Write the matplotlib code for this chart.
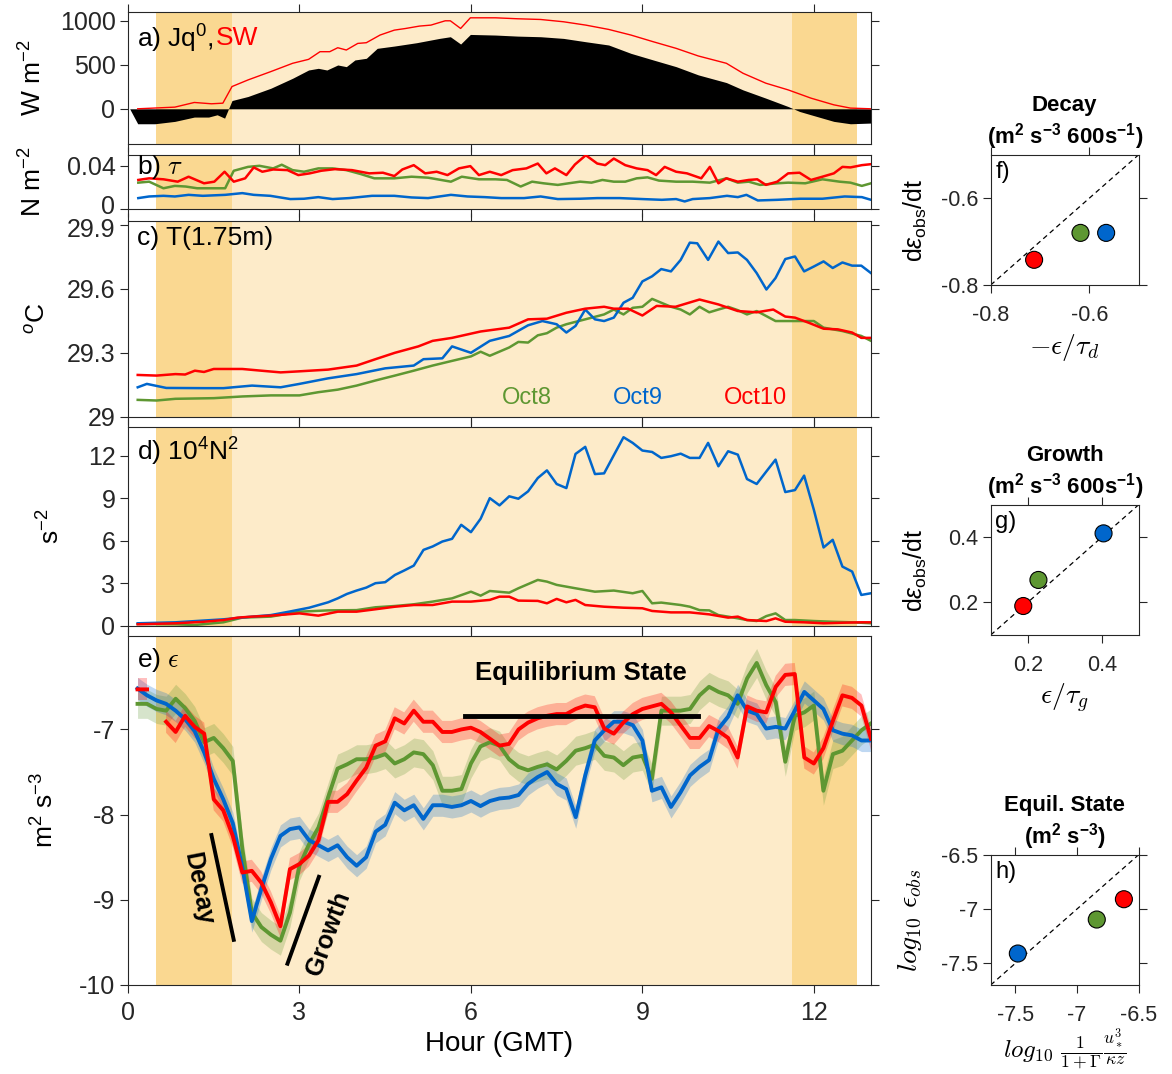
import numpy as np
import matplotlib
matplotlib.use('Agg')
import matplotlib.pyplot as plt
import matplotlib.transforms as mtransforms

plt.rcParams['font.family'] = ['Liberation Sans', 'DejaVu Sans']
plt.rcParams['mathtext.fontset'] = 'custom'
plt.rcParams['mathtext.rm'] = 'Liberation Sans'
plt.rcParams['mathtext.it'] = 'Liberation Sans:italic'
plt.rcParams['mathtext.bf'] = 'Liberation Sans:bold'
plt.rcParams['mathtext.sf'] = 'Liberation Sans'
plt.rcParams['axes.unicode_minus'] = False

# ---------------- data ----------------
# a) surface heat flux Jq0 and shortwave SW (W m-2)
t_sw = [0.17, 0.82, 1.16, 1.46, 1.66, 1.82, 2.1, 2.5, 2.88, 3.16, 3.36, 3.53, 3.67, 3.82, 4.02, 4.17, 4.41,
        4.66, 4.86, 5.1, 5.3, 5.55, 5.64, 5.82, 5.99, 6.43, 6.82, 7.22, 7.62, 8.01, 8.41, 8.8, 9.19, 9.59,
        9.98, 10.47, 10.76, 11.16, 11.55, 11.95, 12.35, 12.64, 13.0]
sw = [0, 19, 72, 57, 64, 253, 328, 423, 517, 562, 649, 649, 694, 668, 743, 751, 838, 894, 913, 940, 951,
      1000, 1000, 913, 1034, 1034, 1023, 1015, 989, 951, 902, 838, 762, 687, 600, 517, 404, 291, 215, 121,
      45, 8, 0]
t_jq = [0.03, 0.17, 0.47, 0.82, 1.16, 1.41, 1.56, 1.69, 1.82, 2.1, 2.5, 2.88, 3.16, 3.33, 3.48, 3.67, 3.82,
        3.97, 4.17, 4.36, 4.66, 5.05, 5.45, 5.64, 5.82, 5.99, 6.43, 6.82, 7.22, 7.62, 8.01, 8.41, 8.8, 9.19,
        9.59, 9.98, 10.47, 10.76, 11.16, 11.55, 11.75, 11.95, 12.35, 12.64, 13.0]
jq = [0, -170, -170, -143, -94, -94, -68, -106, 94, 140, 234, 347, 441, 460, 441, 498, 479, 555, 574, 687,
      713, 751, 800, 819, 736, 845, 838, 826, 819, 800, 762, 725, 630, 555, 479, 385, 298, 215, 121, 26,
      -30, -68, -143, -170, -162]

# b) wind stress tau (N m-2)
t_tau_g = [0.18, 0.37, 0.62, 0.82, 1.01, 1.21, 1.46, 1.70, 1.85, 2.1, 2.3, 2.54, 2.69, 2.88, 3.08, 3.33, 3.58,
           3.82, 4.07, 4.31, 4.66, 4.96, 5.25, 5.65, 5.84, 6.14, 6.43, 6.63, 6.87, 7.07, 7.27, 7.52, 7.71,
           7.91, 8.11, 8.3, 8.5, 8.7, 8.9, 9.09, 9.29, 9.59, 9.88, 10.18, 10.47, 10.67, 10.86, 11.06, 11.36,
           11.55, 11.85, 12.15, 12.45, 12.64, 12.84, 13.0]
tau_g = [0.0244, 0.0253, 0.0192, 0.0214, 0.0208, 0.0192, 0.0192, 0.0192, 0.0354, 0.039, 0.040, 0.0376,
         0.041, 0.036, 0.0345, 0.0376, 0.0376, 0.036, 0.0324, 0.0284, 0.0284, 0.0299, 0.029, 0.0253, 0.0299,
         0.0275, 0.0275, 0.0269, 0.0208, 0.0253, 0.0238, 0.0223, 0.0238, 0.0253, 0.0244, 0.0269, 0.0253,
         0.0253, 0.0284, 0.0293, 0.0263, 0.0253, 0.0253, 0.0244, 0.0284, 0.0244, 0.0253, 0.0223, 0.0238,
         0.0244, 0.0238, 0.0275, 0.0253, 0.0244, 0.0214, 0.0238]
t_tau_b = [0.18, 0.37, 0.62, 0.82, 1.06, 1.31, 1.70, 2.0, 2.2, 2.49, 2.84, 3.08, 3.33, 3.58, 3.87, 4.27, 4.66,
           4.96, 5.25, 5.65, 5.94, 6.24, 6.53, 6.93, 7.22, 7.52, 7.91, 8.21, 8.6, 9.0, 9.34, 9.59, 9.74, 9.88,
           10.18, 10.48, 10.67, 10.82, 11.02, 11.36, 11.76, 12.15, 12.54, 12.84, 13.0]
tau_b = [0.0101, 0.0116, 0.0122, 0.0116, 0.0131, 0.0122, 0.0131, 0.0147, 0.0131, 0.0122, 0.0092, 0.0095,
         0.011, 0.0092, 0.0101, 0.0122, 0.0122, 0.0107, 0.0101, 0.0131, 0.0116, 0.011, 0.0101, 0.0101,
         0.0116, 0.0092, 0.0095, 0.0101, 0.0101, 0.0092, 0.0085, 0.0092, 0.007, 0.0092, 0.0101, 0.0122,
         0.011, 0.0131, 0.0079, 0.0085, 0.0095, 0.0095, 0.0116, 0.011, 0.0085]
t_tau_r = [0.18, 0.37, 0.62, 0.87, 1.06, 1.33, 1.51, 1.69, 1.85, 2.05, 2.2, 2.35, 2.54, 2.79, 2.98, 3.18, 3.38,
           3.62, 3.92, 4.22, 4.46, 4.66, 4.8, 5.0, 5.2, 5.4, 5.59, 5.79, 5.99, 6.14, 6.33, 6.53, 6.73, 6.97,
           7.17, 7.32, 7.47, 7.67, 7.82, 8.01, 8.21, 8.35, 8.5, 8.7, 8.9, 9.09, 9.24, 9.39, 9.59, 9.78, 10.03,
           10.18, 10.33, 10.47, 10.67, 10.86, 11.01, 11.16, 11.36, 11.55, 11.75, 11.95, 12.15, 12.35, 12.5,
           12.64, 12.84, 13.0]
tau_r = [0.0269, 0.0284, 0.0275, 0.0253, 0.0299, 0.0238, 0.0253, 0.0345, 0.0253, 0.0284, 0.0385, 0.0345,
         0.0366, 0.036, 0.0314, 0.033, 0.0354, 0.0369, 0.036, 0.033, 0.0336, 0.0305, 0.0366, 0.0406, 0.033,
         0.0345, 0.0314, 0.0376, 0.0397, 0.0314, 0.0345, 0.0314, 0.036, 0.0376, 0.0421, 0.033, 0.0376,
         0.0314, 0.0412, 0.0498, 0.0421, 0.0406, 0.0467, 0.0406, 0.0376, 0.036, 0.0314, 0.039, 0.0345,
         0.033, 0.0284, 0.039, 0.0238, 0.0284, 0.0253, 0.0269, 0.0275, 0.0223, 0.0253, 0.033, 0.0336,
         0.0269, 0.0299, 0.033, 0.039, 0.0385, 0.0406, 0.0415]

# c) temperature at 1.75 m (deg C)
t_T_g = [0.17, 0.5, 0.83, 1.5, 2.0, 2.5, 3.0, 3.33, 3.67, 4.0, 4.33, 4.67, 5.0, 5.33, 5.67, 6.0, 6.17, 6.33,
         6.67, 6.83, 7.0, 7.17, 7.33, 7.5, 7.67, 8.0, 8.33, 8.5, 8.67, 8.83, 9.0, 9.17, 9.33, 9.5, 9.67, 9.83,
         10.0, 10.17, 10.33, 10.5, 10.67, 10.83, 11.0, 11.17, 11.33, 11.67, 12.0, 12.17, 12.5, 12.83, 13.0]
T_g = [29.079, 29.076, 29.084, 29.087, 29.095, 29.1, 29.1, 29.115, 29.127, 29.146, 29.17, 29.193, 29.216,
       29.24, 29.262, 29.283, 29.305, 29.286, 29.325, 29.351, 29.348, 29.382, 29.392, 29.418, 29.434,
       29.457, 29.48, 29.503, 29.48, 29.511, 29.516, 29.553, 29.535, 29.516, 29.503, 29.48, 29.516, 29.49,
       29.503, 29.516, 29.5, 29.48, 29.496, 29.472, 29.449, 29.449, 29.449, 29.418, 29.402, 29.379, 29.356]
t_T_b = [0.17, 0.33, 0.67, 1.33, 1.67, 2.17, 2.67, 3.0, 3.5, 4.0, 4.5, 5.0, 5.17, 5.5, 5.67, 6.0, 6.33, 6.67,
         7.0, 7.25, 7.5, 7.67, 7.83, 8.0, 8.17, 8.33, 8.5, 8.67, 8.83, 9.0, 9.17, 9.33, 9.5, 9.67, 9.83, 9.96,
         10.15, 10.33, 10.5, 10.67, 10.83, 11.0, 11.17, 11.33, 11.5, 11.67, 11.83, 12.0, 12.17, 12.33, 12.5,
         12.67, 12.83, 13.0]
T_b = [29.138, 29.154, 29.135, 29.134, 29.134, 29.146, 29.138, 29.154, 29.18, 29.2, 29.227, 29.24, 29.27,
       29.274, 29.33, 29.30, 29.356, 29.379, 29.429, 29.449, 29.434, 29.395, 29.426, 29.503, 29.457, 29.449,
       29.465, 29.535, 29.558, 29.635, 29.659, 29.693, 29.682, 29.736, 29.817, 29.814, 29.736, 29.822,
       29.768, 29.771, 29.736, 29.674, 29.597, 29.651, 29.74, 29.752, 29.682, 29.705, 29.729, 29.698,
       29.724, 29.709, 29.709, 29.674]
t_T_r = [0.17, 0.5, 0.83, 1.0, 1.17, 1.33, 1.5, 2.0, 2.33, 2.67, 3.0, 3.5, 4.0, 4.33, 4.67, 5.08, 5.33, 5.67,
         6.17, 6.67, 7.0, 7.33, 7.67, 8.0, 8.33, 8.5, 8.75, 9.0, 9.25, 9.58, 10.0, 10.33, 10.67, 11.0, 11.29,
         11.5, 11.67, 11.92, 12.17, 12.42, 12.67, 12.83, 13.0]
T_r = [29.196, 29.193, 29.20, 29.198, 29.216, 29.21, 29.224, 29.224, 29.216, 29.208, 29.213, 29.221, 29.24,
       29.27, 29.30, 29.33, 29.356, 29.37, 29.40, 29.418, 29.457, 29.46, 29.488, 29.507, 29.516, 29.507,
       29.507, 29.475, 29.52, 29.516, 29.55, 29.527, 29.496, 29.49, 29.503, 29.47, 29.465, 29.44, 29.413,
       29.41, 29.395, 29.37, 29.37]

# d) 10^4 N^2 (s-2)
t_N_g = [0.17, 0.83, 1.17, 1.67, 2.0, 2.5, 3.0, 3.5, 4.0, 4.33, 4.67, 5.0, 5.33, 5.67, 6.0, 6.17, 6.33, 6.67,
         6.83, 7.17, 7.33, 7.5, 7.83, 8.17, 8.5, 8.83, 9.0, 9.17, 9.33, 9.67, 9.83, 10.0, 10.17, 10.33, 10.5,
         10.67, 10.83, 11.0, 11.17, 11.33, 11.5, 11.67, 12.0, 12.33, 12.67, 13.0]
N_g = [0.12, 0.10, 0.05, 0.24, 0.57, 0.64, 0.99, 1.08, 1.10, 1.30, 1.39, 1.51, 1.70, 1.93, 2.40, 2.12, 2.45,
       2.33, 2.64, 3.23, 3.11, 2.88, 2.64, 2.40, 2.48, 2.29, 2.45, 1.58, 1.63, 1.46, 1.34, 1.10, 1.08, 0.75,
       0.64, 0.52, 0.40, 0.33, 0.68, 0.87, 0.40, 0.40, 0.33, 0.28, 0.24, 0.17]
t_N_b = [0.17, 0.83, 1.67, 2.17, 2.5, 2.83, 3.17, 3.5, 3.67, 3.83, 4.0, 4.17, 4.33, 4.5, 4.67, 4.83, 5.0, 5.17,
         5.33, 5.5, 5.67, 5.83, 6.0, 6.17, 6.33, 6.5, 6.67, 6.83, 7.0, 7.17, 7.33, 7.5, 7.67, 7.83, 8.0, 8.17,
         8.33, 8.5, 8.67, 8.83, 9.0, 9.17, 9.33, 9.5, 9.67, 9.83, 10.0, 10.15, 10.33, 10.5, 10.67, 10.83,
         11.0, 11.17, 11.33, 11.5, 11.67, 11.83, 12.0, 12.17, 12.33, 12.5, 12.67, 12.83, 13.0]
N_b = [0.17, 0.24, 0.45, 0.64, 0.75, 1.0, 1.27, 1.65, 1.93, 2.24, 2.48, 2.69, 3.0, 3.07, 3.58, 3.89, 4.24,
       5.35, 5.59, 5.94, 6.13, 7.12, 6.6, 7.55, 9.0, 8.49, 9.13, 8.96, 9.48, 10.42, 10.96, 10.0, 9.71, 12.12,
       12.62, 10.7, 10.75, 12.03, 13.3, 12.9, 12.36, 12.26, 11.84, 11.96, 12.14, 11.84, 11.84, 12.9, 11.25,
       12.31, 12.07, 10.35, 10.0, 10.89, 11.72, 9.43, 9.57, 10.59, 8.18, 5.52, 6.06, 4.17, 3.82, 2.17, 2.29]
t_N_r = [0.17, 0.83, 1.33, 1.67, 1.92, 2.17, 2.5, 3.0, 3.33, 3.67, 4.0, 4.33, 4.67, 5.0, 5.33, 5.67, 6.0, 6.33,
         6.5, 6.67, 6.83, 7.17, 7.33, 7.5, 7.67, 7.83, 8.0, 8.33, 8.67, 9.0, 9.17, 9.5, 9.83, 10.17, 10.5,
         10.67, 10.83, 11.17, 11.33, 11.5, 11.83, 12.17, 12.5, 12.83, 13.0]
N_r = [0.10, 0.17, 0.28, 0.40, 0.57, 0.64, 0.71, 0.87, 0.71, 0.99, 0.99, 1.16, 1.34, 1.46, 1.46, 1.70, 1.70,
       1.82, 2.05, 2.05, 1.77, 1.75, 1.58, 1.89, 1.65, 1.82, 1.46, 1.34, 1.27, 1.23, 1.04, 0.94, 0.94, 0.80,
       0.57, 0.64, 0.40, 0.33, 0.52, 0.28, 0.24, 0.17, 0.21, 0.24, 0.24]

# e) log10 epsilon (m2 s-3), 10-minute samples
t_eps = np.arange(1, 79) / 6.0
eps_g = [-6.70, -6.70, -6.76, -6.78, -6.64, -6.75,
         -6.90, -7.15, -7.10, -7.22, -7.37, -8.40,
         -9.15, -9.32, -9.41, -9.48, -9.15, -8.60,
         -8.35, -8.15, -7.80, -7.46, -7.41, -7.35,
         -7.35, -7.33, -7.29, -7.40, -7.35, -7.27,
         -7.29, -7.42, -7.72, -7.72, -7.70, -7.40,
         -7.20, -7.15, -7.19, -7.35, -7.44, -7.48,
         -7.44, -7.41, -7.47, -7.37, -7.25, -7.22,
         -7.18, -7.31, -7.33, -7.42, -7.33, -7.31,
         -7.58, -6.78, -6.78, -6.78, -6.76, -6.60,
         -6.50, -6.56, -6.60, -6.70, -6.40, -6.22,
         -6.48, -6.68, -7.38, -6.84, -6.80, -6.72,
         -7.72, -7.29, -7.25, -7.13, -7.01, -6.93]
eps_b = [-6.52, -6.60, -6.66, -6.70, -6.78, -6.88,
         -7.02, -7.27, -7.58, -7.82, -8.10, -8.62,
         -9.25, -8.87, -8.52, -8.25, -8.17, -8.15,
         -8.30, -8.36, -8.42, -8.36, -8.50, -8.60,
         -8.50, -8.20, -8.12, -7.86, -7.95, -7.89,
         -8.05, -7.89, -7.89, -7.91, -7.89, -7.84,
         -7.90, -7.84, -7.81, -7.80, -7.77, -7.64,
         -7.56, -7.50, -7.64, -7.70, -8.03, -7.54,
         -7.13, -7.01, -6.91, -6.91, -6.95, -7.13,
         -7.72, -7.68, -7.91, -7.74, -7.54, -7.44,
         -7.36, -6.99, -6.85, -6.60, -6.78, -6.82,
         -6.99, -6.97, -6.99, -6.78, -6.56, -6.66,
         -6.76, -7.01, -7.05, -7.07, -7.13, -7.13]
eps_r = [-6.53, -6.53, np.nan, -6.91, -7.03, -6.84,
         -6.97, -7.05, -7.82, -7.95, -8.25, -8.68,
         -8.66, -8.80, -9.03, -9.31, -8.64, -8.58,
         -8.48, -8.30, -7.85, -7.85, -7.76, -7.60,
         -7.45, -7.19, -7.14, -6.87, -6.93, -6.78,
         -6.91, -6.91, -7.03, -7.03, -7.00, -6.98,
         -7.03, -7.11, -7.19, -7.17, -7.00, -6.92,
         -6.87, -6.84, -6.82, -6.82, -6.76, -6.72,
         -6.74, -6.99, -7.05, -6.92, -6.82, -6.76,
         -6.73, -6.70, -6.80, -6.95, -7.10, -7.10,
         -6.96, -7.02, -7.10, -7.33, -6.73, -6.78,
         -6.80, -6.50, -6.36, -6.35, -7.33, -7.40,
         -7.22, -6.90, -6.60, -6.63, -6.72, -7.11]
eps_err = {'g': 0.17, 'b': 0.13, 'r': 0.13}

# annotations in e)
eq_span, eq_level = [5.9, 9.97], -6.84
decay_seg = ([1.46, 1.85], [-8.24, -9.47])
growth_seg = ([2.79, 3.34], [-9.75, -8.73])

# f-h) scatter points, order: Oct8, Oct9, Oct10
decay_model = [-0.618, -0.566, -0.712]
decay_obs = [-0.680, -0.680, -0.742]
growth_model = [0.229, 0.405, 0.188]
growth_obs = [0.269, 0.412, 0.189]
equil_model = [-6.84, -7.48, -6.62]
equil_obs = [-7.097, -7.41, -6.91]

# shading (hours)
light_band = (0.49, 12.76)
dark_bands = [(0.49, 1.82), (11.61, 12.76)]

GREEN = '#5E9732'
BLUE = '#0066CC'
RED = '#FF0000'
LIGHT = '#FDEBC9'
DARK = '#FAD891'
AX = '#262626'
colors3 = [GREEN, BLUE, RED]

# ---------------- figure ----------------
fig = plt.figure(figsize=(11.72, 10.74), dpi=100)
L, W = 128 / 1172, 743 / 1172
TS = 18


def pos(top, bot):
    return [L, 1 - bot / 1074, W, (bot - top) / 1074]


def style(ax, size=TS):
    for s in ax.spines.values():
        s.set_color(AX)
        s.set_linewidth(0.8)
    ax.tick_params(direction='out', top=True, right=True, length=5.5, width=0.8,
                   colors=AX, labelsize=size, labelcolor=AX)


def shade(ax):
    ax.axvspan(*light_band, color=LIGHT, lw=0, zorder=0)
    for a, b in dark_bands:
        ax.axvspan(a, b, color=DARK, lw=0, zorder=0.5)


axa = fig.add_axes(pos(12, 144))
axb = fig.add_axes(pos(155, 209))
axc = fig.add_axes(pos(220.7, 416.7))
axd = fig.add_axes(pos(427.3, 625.7))
axe = fig.add_axes(pos(635.7, 985))
main = [axa, axb, axc, axd, axe]
for ax in main:
    shade(ax)
    style(ax)
    ax.set_xlim(0, 13)
    ax.set_xticks([0, 3, 6, 9, 12])
    if ax is not axe:
        ax.set_xticklabels([])

# a
axa.fill_between(t_jq, 0, jq, color='black', lw=0, zorder=2)
axa.plot(t_sw, sw, color=RED, lw=1.0, zorder=3)
axa.set_ylim(-400, 1100)
axa.set_yticks([0, 500, 1000])
axa.text(0.012, 0.80, 'a) Jq$^0$,', transform=axa.transAxes, fontsize=19, va='center')
axa.text(0.118, 0.80, 'SW', transform=axa.transAxes, fontsize=19, va='center', color=RED)
axa.set_ylabel('W m$^{-2}$', fontsize=19)
axa.yaxis.set_label_coords(-0.110, 0.5)

# b
axb.plot(t_tau_g, tau_g, color=GREEN, lw=1.8, zorder=2)
axb.plot(t_tau_b, tau_b, color=BLUE, lw=1.8, zorder=2)
axb.plot(t_tau_r, tau_r, color=RED, lw=1.8, zorder=3)
axb.set_ylim(0, 0.05)
axb.set_yticks([0, 0.04])
axb.set_yticklabels(['0', '0.04'])
# nudge the lowest label up a little so it clears panel c's top label
lab0 = axb.get_yticklabels()[0]
lab0.set_transform(lab0.get_transform() + mtransforms.ScaledTranslation(0, 4 / 100, fig.dpi_scale_trans))
axb.text(0.012, 0.78, r'b) $\tau$', transform=axb.transAxes, fontsize=19, va='center',
         math_fontfamily='cm')
axb.set_ylabel('N m$^{-2}$', fontsize=19)
axb.yaxis.set_label_coords(-0.110, 0.5)

# c
axc.plot(t_T_g, T_g, color=GREEN, lw=1.8, zorder=2)
axc.plot(t_T_b, T_b, color=BLUE, lw=1.8, zorder=2)
axc.plot(t_T_r, T_r, color=RED, lw=1.8, zorder=3)
axc.set_ylim(29, 29.92)
axc.set_yticks([29, 29.3, 29.6, 29.9])
axc.set_yticklabels(['29', '29.3', '29.6', '29.9'])
labtop = axc.get_yticklabels()[-1]
labtop.set_transform(labtop.get_transform() + mtransforms.ScaledTranslation(0, -3 / 100, fig.dpi_scale_trans))
axc.text(0.012, 0.91, 'c) T(1.75m)', transform=axc.transAxes, fontsize=19, va='center')
for lab, xx, cc in [('Oct8', 6.98, GREEN), ('Oct9', 8.92, BLUE), ('Oct10', 10.98, RED)]:
    axc.text(xx, 29.088, lab, color=cc, fontsize=17, ha='center', va='center')
axc.set_ylabel('$^o$C', fontsize=19)
axc.yaxis.set_label_coords(-0.105, 0.5)

# d
axd.plot(t_N_g, N_g, color=GREEN, lw=1.8, zorder=2)
axd.plot(t_N_b, N_b, color=BLUE, lw=1.8, zorder=2)
axd.plot(t_N_r, N_r, color=RED, lw=1.8, zorder=3)
axd.set_ylim(0, 14)
axd.set_yticks([0, 3, 6, 9, 12])
axd.text(0.012, 0.875, 'd) 10$^4$N$^2$', transform=axd.transAxes, fontsize=19, va='center')
axd.set_ylabel('s$^{-2}$', fontsize=19)
axd.yaxis.set_label_coords(-0.086, 0.5)

# e
for key, ser, cc in [('g', eps_g, GREEN), ('b', eps_b, BLUE), ('r', eps_r, RED)]:
    s = np.array(ser, dtype=float)
    axe.fill_between(t_eps, s - eps_err[key], s + eps_err[key], color=cc, alpha=0.25, lw=0, zorder=2)
    axe.plot(t_eps, s, color=cc, lw=2.8, zorder=3)
axe.plot(eq_span, [eq_level, eq_level], color='black', lw=3.5, zorder=4)
axe.plot(*decay_seg, color='black', lw=2.8, zorder=4)
axe.plot(*growth_seg, color='black', lw=2.8, zorder=4)
axe.text(7.93, -6.34, 'Equilibrium State', fontsize=18.5, fontweight='bold', ha='center', va='center')
axe.text(1.23, -8.87, 'Decay', fontsize=18, fontweight='bold', ha='center', va='center', rotation=-79)
axe.text(3.5, -9.4, 'Growth', fontsize=18, fontweight='bold', ha='center', va='center', rotation=70)
axe.text(0.012, 0.93, r'e) $\epsilon$', transform=axe.transAxes, fontsize=19, va='center',
         math_fontfamily='cm')
axe.set_ylim(-10, -5.9)
axe.set_yticks([-10, -9, -8, -7])
axe.set_ylabel('m$^2$ s$^{-3}$', fontsize=19)
axe.yaxis.set_label_coords(-0.094, 0.5)
axe.set_xlabel('Hour (GMT)', fontsize=20)
axe.tick_params(axis='x', pad=6)

# right panels
RL, RW, RH = 990.7 / 1172, 148 / 1172, 130.3 / 1074


def rpanel(bot_px, lo, hi, ticks, tlabels, mx, my, title, tag, xlabel, ylabel, ycm=False,
           xsize=20, xpad=4):
    ax = fig.add_axes([RL, 1 - bot_px / 1074, RW, RH])
    style(ax, size=15.5)
    ax.tick_params(axis='x', pad=9)
    ax.set_xlim(lo, hi)
    ax.set_ylim(lo, hi)
    ax.set_xticks(ticks)
    ax.set_yticks(ticks)
    ax.set_xticklabels(tlabels)
    ax.set_yticklabels(tlabels)
    ax.plot([lo, hi], [lo, hi], color='black', lw=0.9, ls=(0, (4, 3)), zorder=2)
    ax.scatter(mx, my, s=150, c=colors3, edgecolors='black', linewidths=0.8, zorder=3)
    ax.set_title(title, fontsize=16, fontweight='bold', pad=8, linespacing=1.25)
    ax.text(0.03, 0.87, tag, transform=ax.transAxes, fontsize=17, va='center')
    ax.set_xlabel(xlabel, fontsize=xsize, math_fontfamily='cm', labelpad=xpad)
    if ycm:
        ax.set_ylabel(ylabel, fontsize=20, math_fontfamily='cm')
        ax.yaxis.set_label_coords(-0.45, 0.5)
    else:
        ax.set_ylabel(ylabel, fontsize=18)
        ax.yaxis.set_label_coords(-0.42, 0.5)
    return ax


axf = rpanel(285, -0.8, -0.5, [-0.8, -0.6], ['-0.8', '-0.6'], decay_model, decay_obs,
             'Decay\n(m$^\\mathbf{2}$ s$^\\mathbf{-3}$ 600s$^\\mathbf{-1}$)', 'f)',
             r'$-\epsilon/\tau_d$', r'd$\epsilon_{\rm obs}$/dt')
axg = rpanel(635, 0.1, 0.5, [0.2, 0.4], ['0.2', '0.4'], growth_model, growth_obs,
             'Growth\n(m$^\\mathbf{2}$ s$^\\mathbf{-3}$ 600s$^\\mathbf{-1}$)', 'g)',
             r'$\epsilon/\tau_g$', r'd$\epsilon_{\rm obs}$/dt')
axh = rpanel(985, -7.7, -6.5, [-7.5, -7, -6.5], ['-7.5', '-7', '-6.5'], equil_model, equil_obs,
             'Equil. State\n(m$^\\mathbf{2}$ s$^\\mathbf{-3}$)', 'h)',
             r'$log_{10}\ \frac{1}{1+\Gamma}\frac{u_*^3}{\kappa z}$', r'$log_{10}\ \epsilon_{obs}$', ycm=True,
             xsize=18, xpad=0)

fig.savefig('out.png', dpi=100)
